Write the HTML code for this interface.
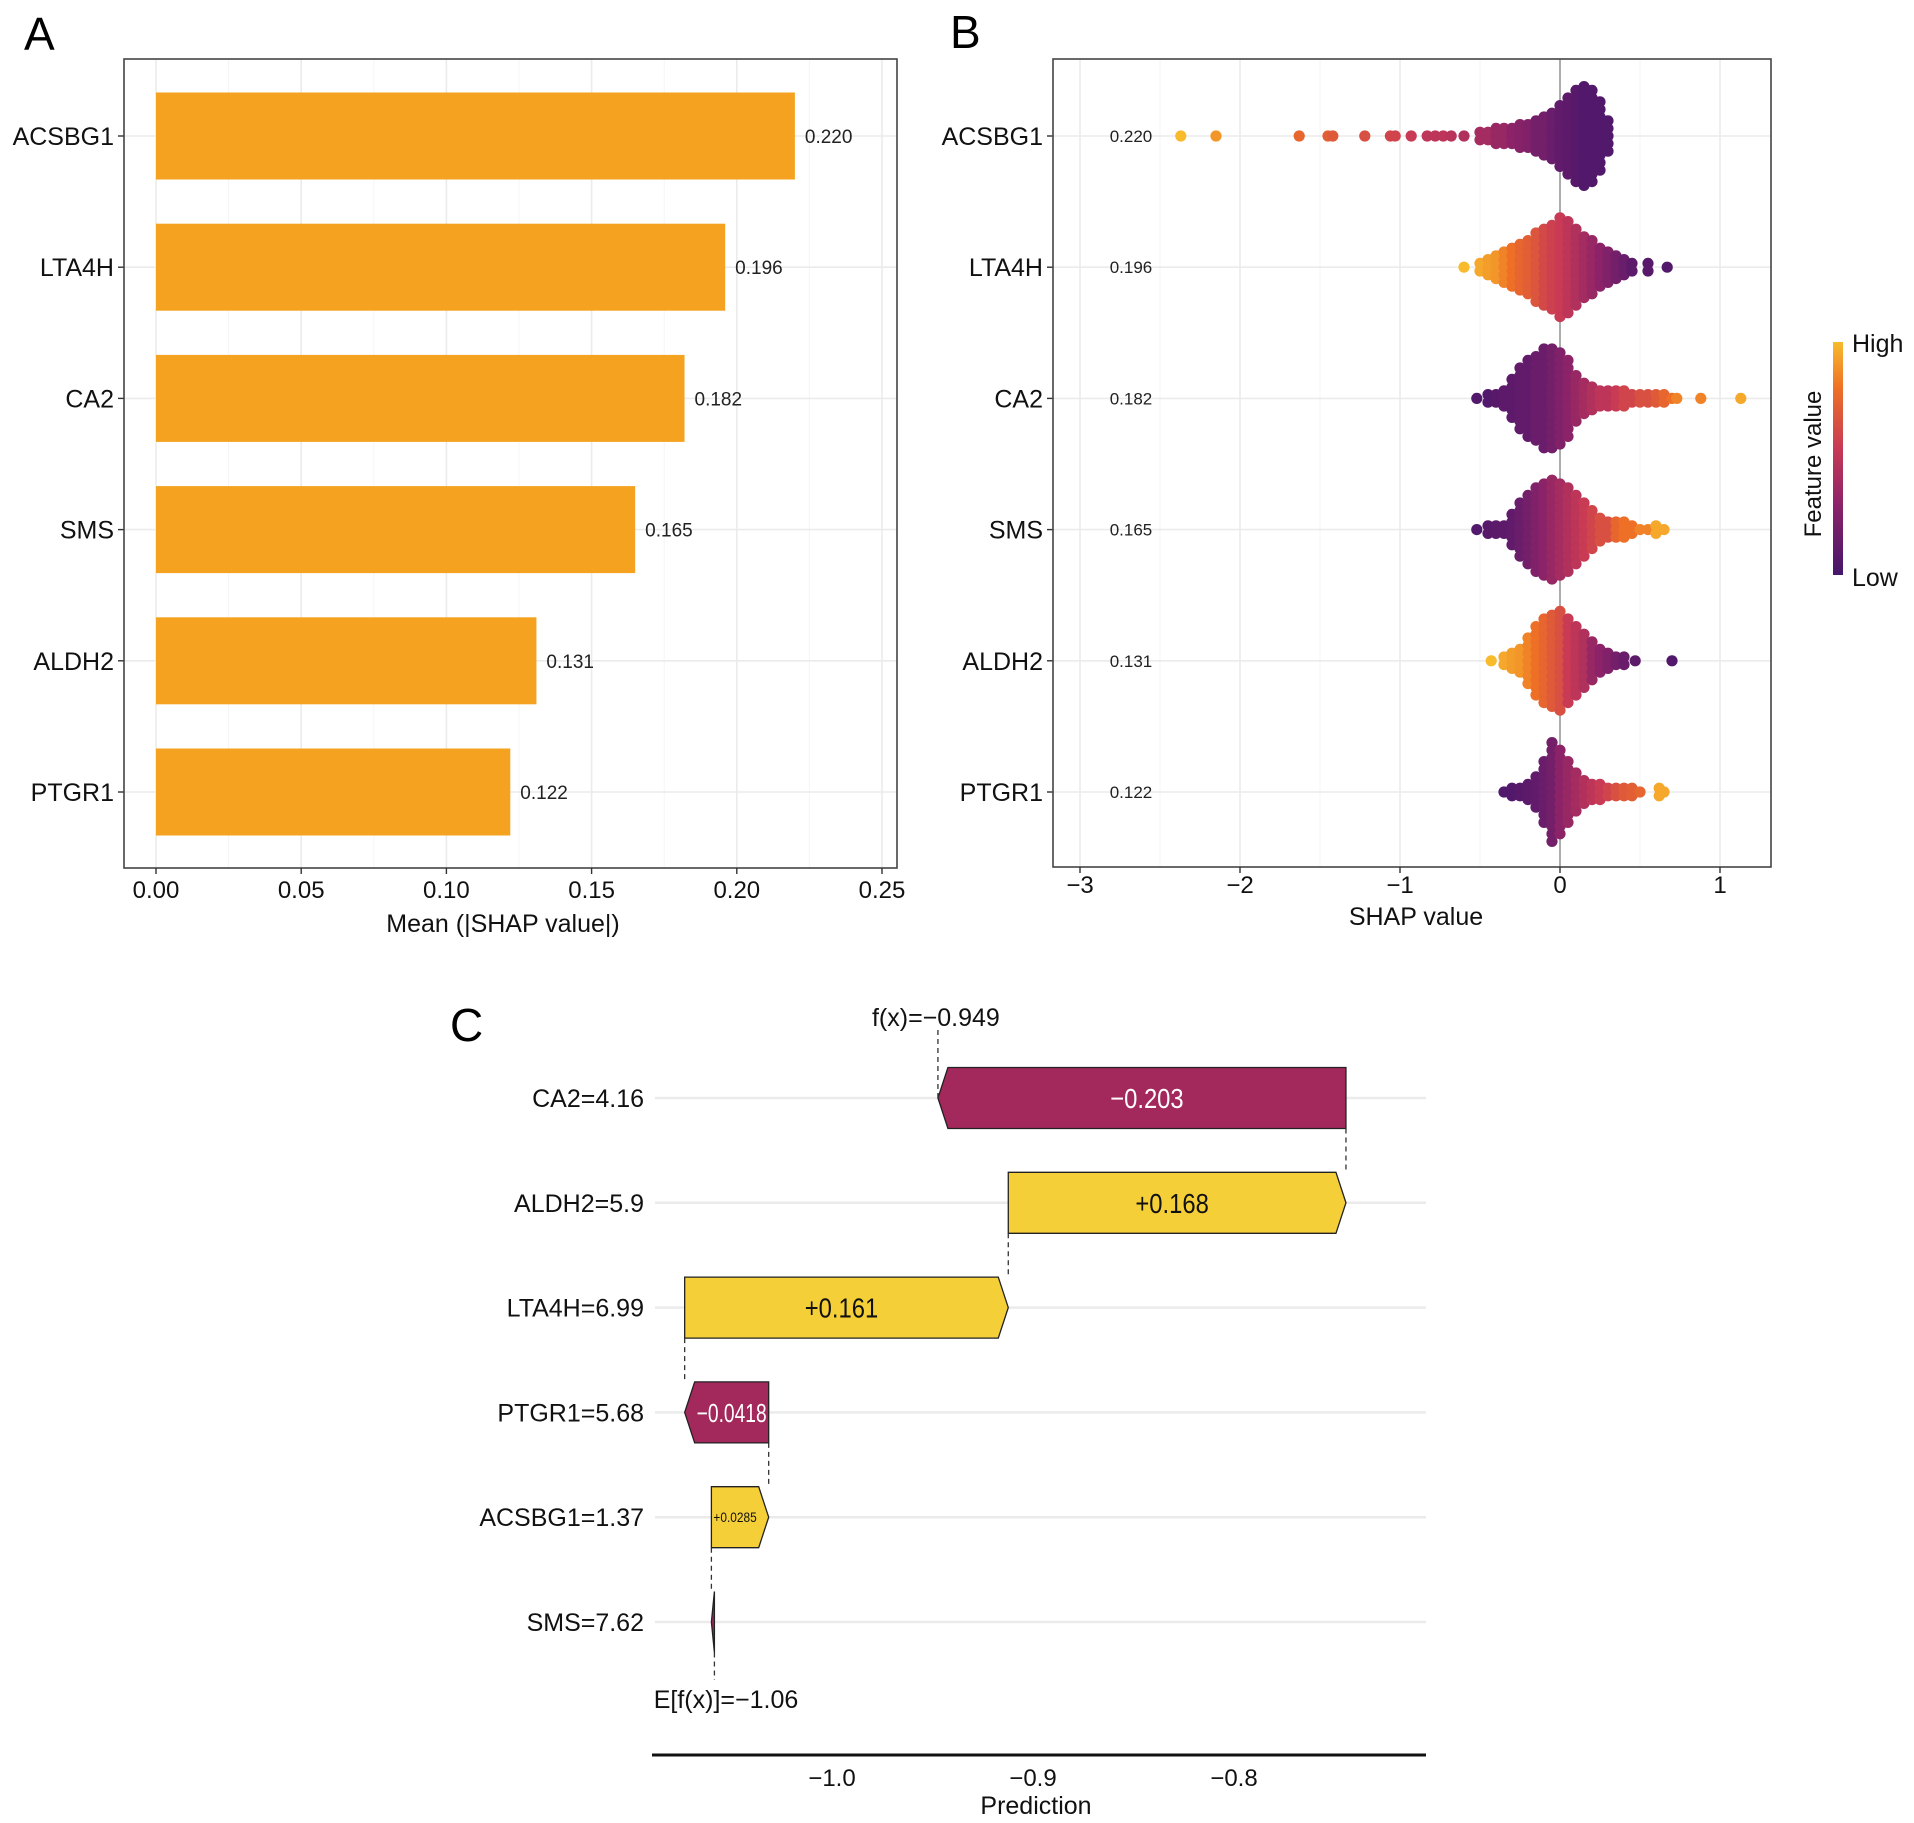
<!DOCTYPE html>
<html><head><meta charset="utf-8"><style>
html,body{margin:0;padding:0;background:#fff;}
svg{display:block;font-family:"Liberation Sans",Arial,sans-serif;}
</style></head><body>
<svg id="fig" width="1914" height="1823" viewBox="0 0 1914 1823" xmlns="http://www.w3.org/2000/svg">
<defs>
<linearGradient id="cbar" x1="0" y1="1" x2="0" y2="0">
<stop offset="0" stop-color="#45166b"/><stop offset="0.3" stop-color="#8c2368"/><stop offset="0.55" stop-color="#c93a55"/><stop offset="0.8" stop-color="#ee7026"/><stop offset="1" stop-color="#f7bb2c"/>
</linearGradient>
</defs>
<g id="pa"></g>
<g id="pb"></g>
<g id="pc"></g>
</svg>
<script>
// ---------- Panel A data ----------
const featuresA = ["ACSBG1","LTA4H","CA2","SMS","ALDH2","PTGR1"];
const meanShap = [0.220,0.196,0.182,0.165,0.131,0.122];
const ticksA = [0,0.05,0.10,0.15,0.20,0.25];
const tickLabelsA = ["0.00","0.05","0.10","0.15","0.20","0.25"];

// ---------- Panel B data (binned beeswarm: shap bin, dot count, mean feature value) ----------
const ticksB = [-3,-2,-1,0,1];
const tickLabelsB = ["\u22123","\u22122","\u22121","0","1"];
const acsX = [-2.37,-2.15,-1.63,-1.45,-1.42,-1.22,-1.06,-1.03,-0.93,-0.83,-0.78,-0.73,-0.68,-0.6,-0.5,-0.45,-0.4,-0.35,-0.3,-0.25,-0.2,-0.15,-0.1,-0.05,0,0.05,0.1,0.15,0.2,0.25,0.3];
const acsN = [1,1,1,1,1,1,1,1,1,1,1,1,1,1,2,2,3,3,3,4,4,5,6,7,9,11,13,14,13,10,5];
const acsC = [1,0.9,0.75,0.72,0.7,0.65,0.6,0.6,0.55,0.5,0.5,0.5,0.48,0.45,0.4,0.4,0.35,0.35,0.3,0.28,0.25,0.2,0.2,0.15,0.12,0.1,0.08,0.05,0.05,0.05,0.05];
const ltaX = [-0.6,-0.5,-0.45,-0.4,-0.35,-0.3,-0.25,-0.2,-0.15,-0.1,-0.05,0,0.05,0.1,0.15,0.2,0.25,0.3,0.35,0.4,0.45,0.55,0.67];
const ltaN = [1,2,3,4,5,6,7,8,10,11,12,14,13,11,9,8,6,5,4,3,2,2,1];
const ltaC = [1,0.95,0.92,0.9,0.85,0.8,0.75,0.72,0.68,0.62,0.58,0.55,0.5,0.45,0.4,0.35,0.3,0.25,0.2,0.15,0.1,0.08,0.05];
const ca2X = [-0.52,-0.45,-0.4,-0.35,-0.3,-0.25,-0.2,-0.15,-0.1,-0.05,0,0.05,0.1,0.15,0.2,0.25,0.3,0.35,0.4,0.45,0.5,0.55,0.6,0.65,0.7,0.73,0.88,1.13];
const ca2N = [1,2,2,3,6,9,11,12,14,14,13,11,7,5,4,3,3,3,3,2,2,2,2,2,1,1,1,1];
const ca2C = [0.05,0.05,0.08,0.1,0.1,0.12,0.12,0.15,0.15,0.2,0.25,0.3,0.35,0.4,0.45,0.5,0.5,0.55,0.6,0.6,0.65,0.65,0.7,0.75,0.8,0.85,0.85,0.95];
const smsX = [-0.52,-0.45,-0.4,-0.35,-0.3,-0.25,-0.2,-0.15,-0.1,-0.05,0,0.05,0.1,0.15,0.2,0.25,0.3,0.35,0.4,0.45,0.5,0.55,0.6,0.65];
const smsN = [1,2,2,2,5,8,10,12,13,14,13,12,10,8,6,4,3,3,3,2,1,1,2,1];
const smsC = [0.05,0.08,0.1,0.1,0.12,0.15,0.2,0.25,0.3,0.35,0.4,0.45,0.5,0.55,0.6,0.65,0.65,0.75,0.8,0.8,0.85,0.85,0.95,0.95];
const aldX = [-0.43,-0.35,-0.3,-0.25,-0.2,-0.15,-0.1,-0.05,0,0.05,0.1,0.15,0.2,0.25,0.3,0.35,0.4,0.47,0.7];
const aldN = [1,2,3,4,7,10,12,13,14,12,10,8,6,4,3,2,2,1,1];
const aldC = [1,0.95,0.92,0.9,0.85,0.8,0.75,0.7,0.65,0.55,0.5,0.45,0.35,0.3,0.25,0.2,0.15,0.1,0.05];
const ptgX = [-0.35,-0.3,-0.25,-0.2,-0.15,-0.1,-0.05,0,0.05,0.1,0.15,0.2,0.25,0.3,0.35,0.4,0.45,0.5,0.62,0.65];
const ptgN = [1,2,2,3,5,9,14,12,9,6,4,3,3,2,2,2,2,1,2,1];
const ptgC = [0.05,0.05,0.08,0.1,0.12,0.15,0.2,0.3,0.35,0.4,0.45,0.5,0.55,0.6,0.65,0.7,0.72,0.75,0.95,0.95];

// ---------- Panel C data ----------
const featuresC = ["SMS=7.62","ACSBG1=1.37","PTGR1=5.68","LTA4H=6.99","ALDH2=5.9","CA2=4.16"];
const contribC = [-0.0015,0.0285,-0.0418,0.161,0.168,-0.203];
const contribLabels = ["","+0.0285","\u22120.0418","+0.161","+0.168","\u22120.203"];
const baseValue = -1.0585;
const ticksC = [-1.0,-0.9,-0.8];
const tickLabelsC = ["\u22121.0","\u22120.9","\u22120.8"];

const NS = "http://www.w3.org/2000/svg";
function mk(parent, tag, attrs, text){
  const e = document.createElementNS(NS, tag);
  for (const k in attrs) e.setAttribute(k, attrs[k]);
  if (text !== undefined) e.textContent = text;
  parent.appendChild(e);
  return e;
}

// ================= PANEL A =================
(function(){
  const g = document.getElementById('pa');
  const L=124,R=897,T=59,B=868;
  const x = v => 156 + v/0.25*726;
  const rowY = i => 136 + i*131.2;
  const barH = 87;
  let lt = mk(g,'text',{x:24,y:50,'font-size':46,fill:'#000'},'A');
   
  for (let v=0; v<=0.25001; v+=0.025){
    const major = Math.abs(v/0.05-Math.round(v/0.05))<1e-6;
    const gl = mk(g,'line',{x1:x(v),x2:x(v),y1:T,y2:B,stroke:major?'#ebebeb':'#f4f4f4','stroke-width':major?1.6:1});
     
  }
  featuresA.forEach((f,i)=>{
    const gl = mk(g,'line',{x1:L,x2:R,y1:rowY(i),y2:rowY(i),stroke:'#ebebeb','stroke-width':1.6});
     
  });
  featuresA.forEach((f,i)=>{
    const r = mk(g,'rect',{x:x(0),y:rowY(i)-barH/2,width:x(meanShap[i])-x(0),height:barH,fill:'#f4a21f'});
     
    const t = mk(g,'text',{x:x(meanShap[i])+10,y:rowY(i)+7,'font-size':19,fill:'#222'},meanShap[i].toFixed(3));
     
    const yl = mk(g,'text',{x:114,y:rowY(i)+9,'font-size':25,'text-anchor':'end',fill:'#111'},f);
     
    mk(g,'line',{x1:118,x2:124,y1:rowY(i),y2:rowY(i),stroke:'#333','stroke-width':1.4});
  });
  const box = mk(g,'rect',{x:L,y:T,width:R-L,height:B-T,fill:'none',stroke:'#444','stroke-width':1.6});
   
  ticksA.forEach((v,i)=>{
    mk(g,'line',{x1:x(v),x2:x(v),y1:B,y2:B+6,stroke:'#333','stroke-width':1.4});
    const t = mk(g,'text',{x:x(v),y:898,'font-size':24,'text-anchor':'middle',fill:'#111'},tickLabelsA[i]);
     
  });
  const xt = mk(g,'text',{x:503,y:932,'font-size':25,'text-anchor':'middle',fill:'#111'},'Mean (|SHAP value|)');
   
})();

// ================= PANEL B =================
function colorAt(t){
  const stops=[[0,[69,22,107]],[0.3,[140,35,104]],[0.55,[201,58,85]],[0.8,[238,112,38]],[1,[247,187,44]]];
  for (let i=1;i<stops.length;i++){
    if (t<=stops[i][0]){
      const a=stops[i-1],b=stops[i],f=(t-a[0])/(b[0]-a[0]);
      const c=a[1].map((v,k)=>Math.round(v+(b[1][k]-v)*f));
      return 'rgb('+c.join(',')+')';
    }
  }
  return 'rgb(247,187,44)';
}
(function(){
  const g = document.getElementById('pb');
  const L=1053,R=1771,T=59,B=867;
  const x = v => 1560 + v*160;
  const rowY = i => 136 + i*131.2;
  const names = ["ACSBG1","LTA4H","CA2","SMS","ALDH2","PTGR1"];
  const xs=[acsX,ltaX,ca2X,smsX,aldX,ptgX], ns=[acsN,ltaN,ca2N,smsN,aldN,ptgN], cs=[acsC,ltaC,ca2C,smsC,aldC,ptgC];
  let lt = mk(g,'text',{x:950,y:48,'font-size':46,fill:'#000'},'B');
   
  for (let v=-3; v<=1.26; v+=0.5){
    const major = Math.abs(v-Math.round(v))<1e-6;
    const gl = mk(g,'line',{x1:x(v),x2:x(v),y1:T,y2:B,stroke:major?'#ebebeb':'#f4f4f4','stroke-width':major?1.6:1});
     
  }
  names.forEach((f,i)=>{
    const gl = mk(g,'line',{x1:L,x2:R,y1:rowY(i),y2:rowY(i),stroke:'#ebebeb','stroke-width':1.6});
     
  });
  const zl = mk(g,'line',{x1:x(0),x2:x(0),y1:T,y2:B,stroke:'#9a9a9a','stroke-width':1.6});
   
  names.forEach((f,i)=>{
    const yc = rowY(i);
    xs[i].forEach((sv,j)=>{
      const n = ns[i][j];
      for (let k=0;k<n;k++){
        const off = (k - (n-1)/2)*7.6;
        const c = mk(g,'circle',{cx:x(sv),cy:yc+off,r:5.6,fill:colorAt(cs[i][j])});
         
      }
    });
    const vl = mk(g,'text',{x:1131,y:yc+6,'font-size':17,'text-anchor':'middle',fill:'#222'},meanShap[i].toFixed(3));
     
    const yl = mk(g,'text',{x:1043,y:yc+9,'font-size':25,'text-anchor':'end',fill:'#111'},f);
     
    mk(g,'line',{x1:1047,x2:1053,y1:yc,y2:yc,stroke:'#333','stroke-width':1.4});
  });
  const box = mk(g,'rect',{x:L,y:T,width:R-L,height:B-T,fill:'none',stroke:'#444','stroke-width':1.6});
   
  ticksB.forEach((v,i)=>{
    mk(g,'line',{x1:x(v),x2:x(v),y1:B,y2:B+6,stroke:'#333','stroke-width':1.4});
    const t = mk(g,'text',{x:x(v),y:893,'font-size':24,'text-anchor':'middle',fill:'#111'},tickLabelsB[i]);
     
  });
  const xt = mk(g,'text',{x:1416,y:925,'font-size':25,'text-anchor':'middle',fill:'#111'},'SHAP value');
   
  const cb = mk(g,'rect',{x:1833,y:342,width:10,height:233,fill:'url(#cbar)'});
   
  const hi = mk(g,'text',{x:1852,y:352,'font-size':25,fill:'#111'},'High');
   
  const lo = mk(g,'text',{x:1852,y:586,'font-size':25,fill:'#111'},'Low');
   
  const ft = mk(g,'text',{x:1821,y:464,'font-size':24,'text-anchor':'middle',fill:'#111',transform:'rotate(-90 1821 464)'},'Feature value');
   
})();

// ================= PANEL C =================
(function(){
  const g = document.getElementById('pc');
  const x = v => 832 + (v+1.0)*2010;
  const rowY = i => 1622 - i*104.8;
  const h = 61, tip = 10;
  let lt = mk(g,'text',{x:450,y:1041,'font-size':46,fill:'#000'},'C');
   
  featuresC.forEach((f,i)=>{
    const gl = mk(g,'line',{x1:655,x2:1426,y1:rowY(i),y2:rowY(i),stroke:'#ebebeb','stroke-width':2.5});
     
    const yl = mk(g,'text',{x:644,y:rowY(i)+9,'font-size':25,'text-anchor':'end',fill:'#111'},f);
     
  });
  let cur = baseValue;
  const ends=[];
  contribC.forEach((c,i)=>{
    const s=cur, e=cur+c; cur=e; ends.push([s,e]);
    const y=rowY(i), xs=x(s), xe=x(e);
    let pts;
    const tw = Math.min(tip, Math.abs(xe-xs));
    if (c>=0){
      pts=[[xs,y-h/2],[xe-tw,y-h/2],[xe,y],[xe-tw,y+h/2],[xs,y+h/2]];
    } else {
      pts=[[xs,y-h/2],[xe+tw,y-h/2],[xe,y],[xe+tw,y+h/2],[xs,y+h/2]];
    }
    const p = mk(g,'polygon',{points:pts.map(q=>q.join(',')).join(' '),fill:c>=0?'#f5cf38':'#a3285c',stroke:'#222','stroke-width':1.3});
     
    if (contribLabels[i]){
      const wdt = Math.abs(xe-xs);
      const fs = wdt>120?28:(wdt>70?26:14);
      const attrs = {x:(xs+xe)/2+(c>=0?-tw/2:tw/2),y:y+fs*0.36,'font-size':fs,'text-anchor':'middle',fill:c>=0?'#111':'#fff'};
      if (wdt<=120) { attrs.textLength = wdt-14; attrs.lengthAdjust='spacingAndGlyphs'; }
      else { attrs.transform = 'translate('+attrs.x+' 0) scale(0.85 1) translate('+(-attrs.x)+' 0)'; }
      const t = mk(g,'text',attrs,contribLabels[i]);
       
    }
  });
  const dash = (xv,y1,y2)=>{const l=mk(g,'line',{x1:xv,x2:xv,y1:y1,y2:y2,stroke:'#333','stroke-width':1.3,'stroke-dasharray':'5,4'});
     };
  dash(x(baseValue), rowY(0)+h/2, 1680);
  for (let i=1;i<contribC.length;i++) dash(x(ends[i-1][1]), rowY(i)+h/2, rowY(i-1)-h/2);
  dash(x(cur), 1030, rowY(contribC.length-1)-h/2+30);
  const fx = mk(g,'text',{x:x(cur)-2,y:1026,'font-size':25,'text-anchor':'middle',fill:'#111'},'f(x)=\u22120.949');
   
  const ex = mk(g,'text',{x:726,y:1708,'font-size':25,'text-anchor':'middle',fill:'#111'},'E[f(x)]=\u22121.06');
   
  const ax = mk(g,'line',{x1:652,x2:1426,y1:1755,y2:1755,stroke:'#111','stroke-width':3});
   
  ticksC.forEach((v,i)=>{
    const t = mk(g,'text',{x:x(v),y:1786,'font-size':24,'text-anchor':'middle',fill:'#111'},tickLabelsC[i]);
     
  });
  const xt = mk(g,'text',{x:1036,y:1814,'font-size':25,'text-anchor':'middle',fill:'#111'},'Prediction');
   
})();
</script>
</body></html>
